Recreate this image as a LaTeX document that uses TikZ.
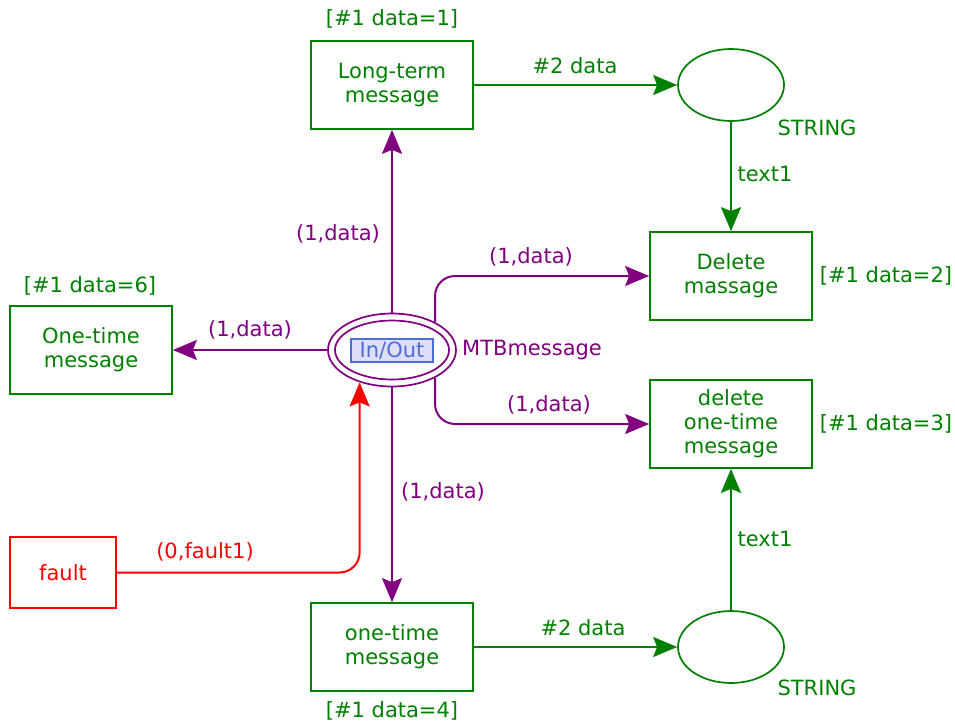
\documentclass[tikz,border=0pt]{standalone}
\usepackage{fontspec}
\setmainfont{DejaVu Sans}
\usetikzlibrary{arrows.meta,shapes.geometric}
\definecolor{cpngreen}{RGB}{0,128,0}
\definecolor{cpnpurple}{RGB}{128,0,128}
\definecolor{cpnred}{RGB}{255,0,0}
\definecolor{tagblue}{RGB}{80,110,210}
\definecolor{tagfill}{RGB}{220,222,250}
\begin{document}
\begin{tikzpicture}[x=1pt,y=-1pt,
  font=\fontsize{21}{24}\selectfont,
  tip/.style={-{Stealth[length=24pt,width=20pt,inset=4pt]}},
  trans/.style={draw=cpngreen, line width=1.7pt, minimum width=162pt,
    minimum height=88pt, align=center, text=cpngreen, inner sep=0pt},
  place/.style={ellipse, draw=cpngreen, line width=1.7pt,
    minimum width=106pt, minimum height=72pt, inner sep=0pt},
  garc/.style={tip, draw=cpngreen, line width=2pt},
  parc/.style={tip, draw=cpnpurple, line width=2pt, rounded corners=20pt},
  rarc/.style={tip, draw=cpnred, line width=2pt, rounded corners=20pt},
  glab/.style={text=cpngreen},
  plab/.style={text=cpnpurple},
  rlab/.style={text=cpnred}]
\useasboundingbox (0,0) rectangle (955,724);

% transitions
\node[trans] (lt)  at (392,85)  {Long-term\\message};
\node[trans] (ot)  at (91,350)  {One-time\\message};
\node[trans] (dm)  at (731,276) {Delete\\massage};
\node[trans] (dot) at (731,424) {delete\\one-time\\message};
\node[trans] (bot) at (392,647) {one-time\\message};
\node[trans, draw=cpnred, text=cpnred, minimum width=106pt,
      minimum height=71pt] (fault) at (63,572.5) {fault};

% places
\node[place] (p1) at (731,85) {};
\node[place] (p2) at (731,647) {};
\node[ellipse, draw=cpnpurple, line width=1.7pt, minimum width=128pt,
      minimum height=73pt, inner sep=0pt] (io) at (392,350) {};
\draw[cpnpurple, line width=1.7pt] (io.center) ellipse [x radius=57, y radius=29.5];
\node[draw=tagblue, fill=tagfill, text=tagblue, line width=1.6pt,
      minimum width=82pt, minimum height=23pt, inner sep=0pt] (tag) at (392,350.5) {In/Out};

% inscriptions
\node[glab] (g1) at (392,19)  {[\#1 data=1]};
\node[glab] (g6) at (90,286)  {[\#1 data=6]};
\node[glab] (g2) at (886,276) {[\#1 data=2]};
\node[glab] (g3) at (886,424) {[\#1 data=3]};
\node[glab] (g4) at (392,711) {[\#1 data=4]};
\node[glab] (s1) at (817,128) {STRING};
\node[glab] (s2) at (817,688) {STRING};
\node[plab] (mt) at (532,350) {MTBmessage};

% arcs
\draw[parc] (io) -- (lt);
\draw[parc] (io) -- (ot);
\draw[parc] (io) -- (bot);
\draw[parc] (io.33.2) |- (dm.west);
\draw[parc] (io.-33.2) |- (dot.west);
\draw[rarc] (fault.east) -| (io.-135.4);
\draw[garc] (lt) -- (p1);
\draw[garc] (p1) -- (dm);
\draw[garc] (p2) -- (dot);
\draw[garc] (bot) -- (p2);

% arc labels
\node[plab] (a1) at (338,234) {(1,data)};
\node[plab] (a2) at (250,330) {(1,data)};
\node[plab] (a3) at (531,257) {(1,data)};
\node[plab] (a4) at (549,405) {(1,data)};
\node[plab] (a5) at (443,492) {(1,data)};
\node[rlab] (a6) at (205,552) {(0,fault1)};
\node[glab] (a7) at (575,66)  {\#2 data};
\node[glab] (a8) at (583,628) {\#2 data};
\node[glab] (a9) at (765,174) {text1};
\node[glab] (a10) at (765,539) {text1};
\end{tikzpicture}
\end{document}
